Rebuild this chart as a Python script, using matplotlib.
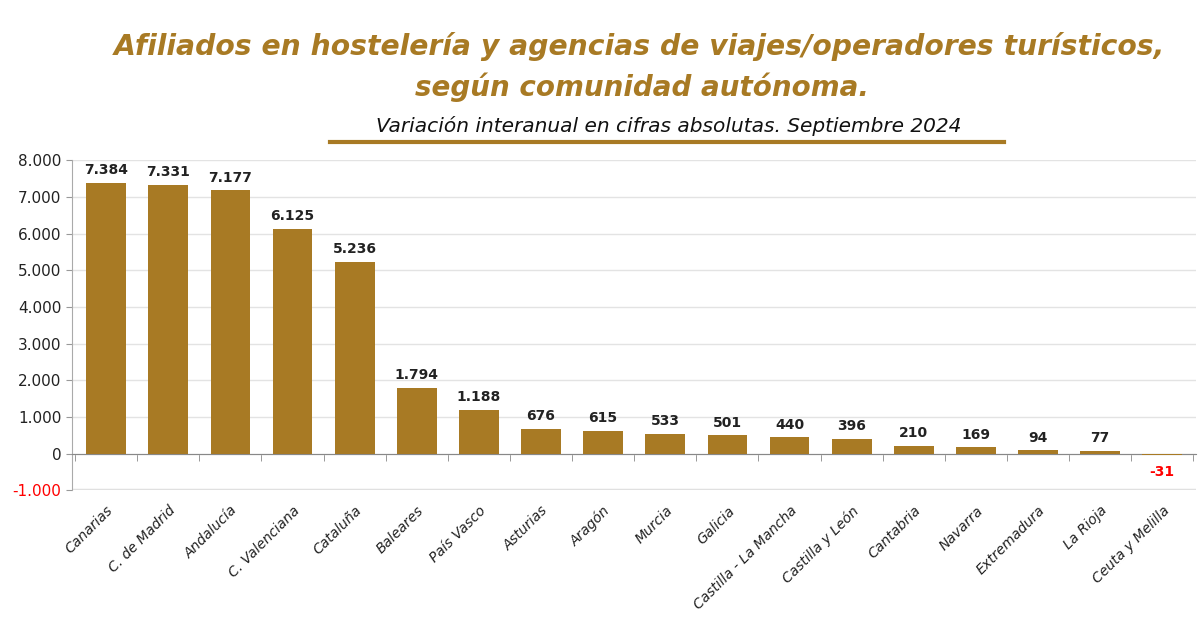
import matplotlib
matplotlib.use("Agg")
import matplotlib.pyplot as plt
import numpy as np
from matplotlib.ticker import FuncFormatter

comunidades = ['Canarias', 'C. de Madrid', 'Andalucía', 'C. Valenciana', 'Cataluña',
               'Baleares', 'País Vasco', 'Asturias', 'Aragón', 'Murcia', 'Galicia',
               'Castilla - La Mancha', 'Castilla y León', 'Cantabria', 'Navarra',
               'Extremadura', 'La Rioja', 'Ceuta y Melilla']
variacion = [7384, 7331, 7177, 6125, 5236, 1794, 1188, 676, 615, 533, 501,
             440, 396, 210, 169, 94, 77, -31]
y_ticks = [-1000, 0, 1000, 2000, 3000, 4000, 5000, 6000, 7000, 8000]

oro = '#A87A24'

def miles(v):
    return f"{v:,.0f}".replace(',', '.')

fig = plt.figure(figsize=(12, 6.26), dpi=100)
ax = fig.add_axes([0.06, 0.217, 0.937, 0.527])

x = np.arange(len(comunidades))
ax.bar(x, variacion, width=0.64, color=oro, zorder=3)

ax.set_ylim(-1000, 8000)
ax.set_xlim(-0.55, len(comunidades) - 0.45)
ax.set_yticks(y_ticks)
ax.yaxis.set_major_formatter(FuncFormatter(lambda v, p: miles(v)))
ax.tick_params(axis='y', labelsize=11, colors='#333333', length=4, color='#999999')
for lab, v in zip(ax.get_yticklabels(), y_ticks):
    lab.set_color('red' if v < 0 else '#222222')

ax.grid(axis='y', color='#e3e3e3', linewidth=1, zorder=0)
ax.axhline(-1000, color='#e0e0e0', linewidth=2.5, zorder=1)

# eje x en el cero, marcas entre barras
ax.spines['bottom'].set_position(('data', 0))
ax.spines['bottom'].set_color('#888888')
ax.spines['left'].set_color('#aaaaaa')
ax.spines['top'].set_visible(False)
ax.spines['right'].set_visible(False)
ax.set_xticks(x)
ax.set_xticks(np.arange(len(comunidades) + 1) - 0.5, minor=True)
ax.set_xticklabels(comunidades, rotation=45, ha='right', rotation_mode='anchor',
                   fontsize=10, style='italic', color='#222222')
ax.tick_params(axis='x', which='major', length=0, pad=36)
ax.tick_params(axis='x', which='minor', length=5, color='#888888')

for xi, v in zip(x, variacion):
    if v >= 0:
        ax.annotate(miles(v), (xi, v), xytext=(0, 4), textcoords='offset points',
                    ha='center', va='bottom', fontsize=10, fontweight='bold', color='#222222')
    else:
        ax.annotate(miles(v), (xi, 0), xytext=(0, -8), textcoords='offset points',
                    ha='center', va='top', fontsize=10, fontweight='bold', color='red')

fig.text(0.533, 0.925, 'Afiliados en hostelería y agencias de viajes/operadores turísticos,',
         ha='center', va='center', fontsize=20.3, fontweight='heavy', style='italic', color=oro)
fig.text(0.535, 0.86, 'según comunidad autónoma.',
         ha='center', va='center', fontsize=20, fontweight='heavy', style='italic', color=oro)
fig.text(0.557, 0.798, 'Variación interanual en cifras absolutas. Septiembre 2024',
         ha='center', va='center', fontsize=14.5, style='italic', color='#111111')
fig.add_artist(plt.Line2D([0.275, 0.837], [0.773, 0.773], transform=fig.transFigure,
                          color=oro, linewidth=3))

fig.savefig('out.png', dpi=100)
